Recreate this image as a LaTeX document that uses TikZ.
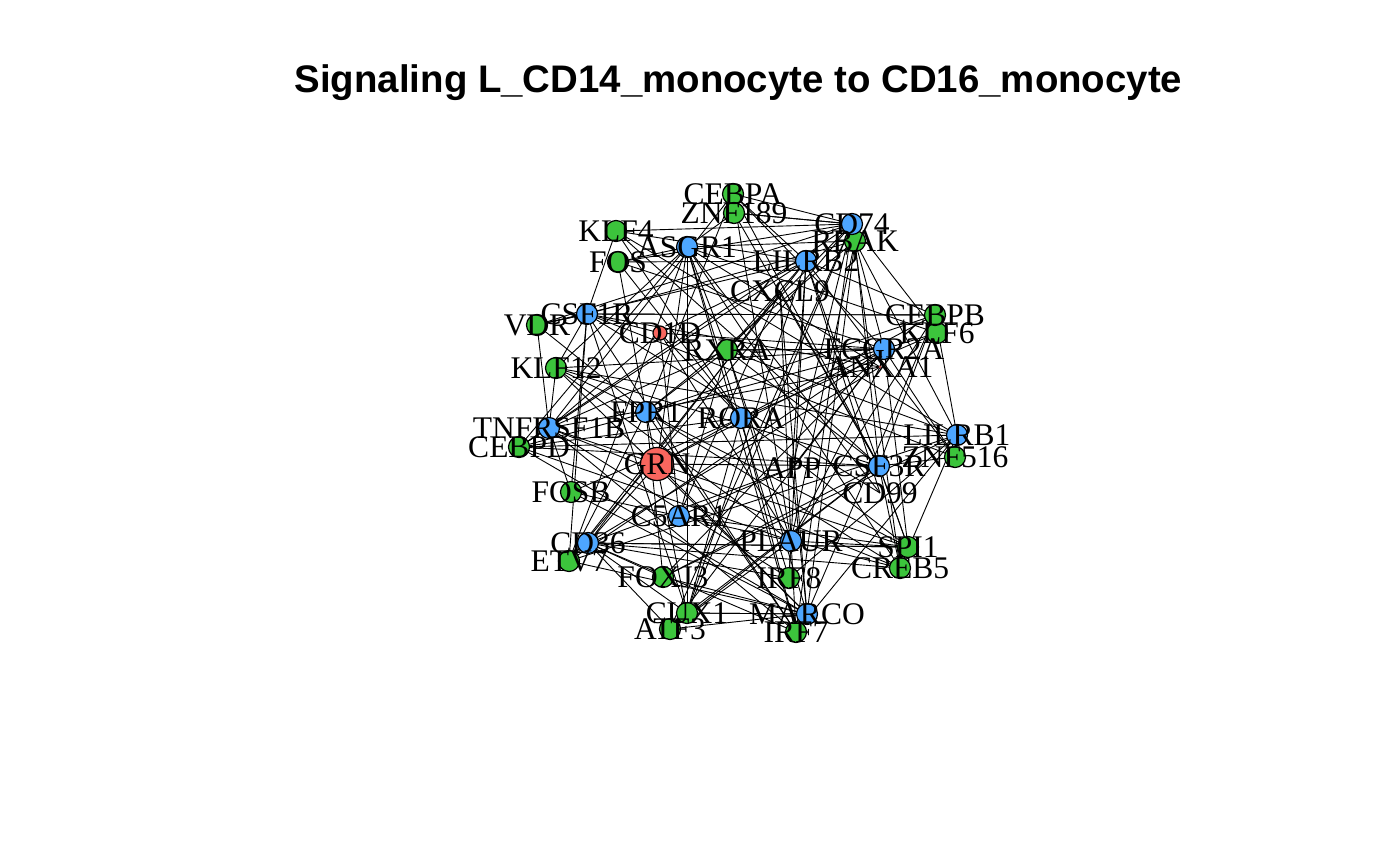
\documentclass[tikz,border=0pt]{standalone}
\usepackage{fontspec}
\setmainfont{Liberation Serif}
\newfontfamily\titlefont{Liberation Sans}
\definecolor{tfgreen}{HTML}{3CC43C}
\definecolor{recblue}{HTML}{4DA6FF}
\definecolor{ligred}{HTML}{F8665E}
\begin{document}
\begin{tikzpicture}[x=1pt,y=-1pt,
  vtx/.style={circle,draw=black,line width=1.2pt,inner sep=0pt,minimum size=21pt},
  tf/.style={vtx,fill=tfgreen},
  rec/.style={vtx,fill=recblue},
  lig/.style={vtx,fill=ligred},
  lbl/.style={font=\fontsize{31.5}{31.5}\selectfont,inner sep=0pt,text=black},
  edge/.style={line width=0.9pt,black}]
\fill[white] (0,0) rectangle (1400,865);
\useasboundingbox (0,0) rectangle (1400,865);
\node[font=\titlefont\bfseries\fontsize{38.4}{38.4}\selectfont,anchor=base] (title) at (738.5,92) {Signaling L\_CD14\_monocyte to CD16\_monocyte};
% vertex positions
\coordinate (CEBPA) at (733,194);
\coordinate (ZNF189) at (734,213);
\coordinate (KLF4) at (616,231);
\coordinate (ASGR1) at (687,247);
\coordinate (FOS) at (618,262);
\coordinate (CD74) at (852,224);
\coordinate (RBAK) at (855,241);
\coordinate (LILRB2) at (806,261);
\coordinate (CXCL9) at (780,291);
\coordinate (CSF1R) at (587,314);
\coordinate (VDR) at (537,325);
\coordinate (CD1D) at (660,333);
\coordinate (RXRA) at (727,350);
\coordinate (KLF12) at (556,368);
\coordinate (CEBPB) at (935,315);
\coordinate (KLF6) at (937,333);
\coordinate (FCGR2A) at (884,349);
\coordinate (ANXA1) at (880,367);
\coordinate (TNFRSF1B) at (549,428);
\coordinate (CEBPD) at (519,447);
\coordinate (FPR1) at (646,412);
\coordinate (RORA) at (741,418);
\coordinate (GRN) at (657,464);
\coordinate (FOSB) at (571,492);
\coordinate (LILRB1) at (957,435);
\coordinate (ZNF516) at (955,457);
\coordinate (CSF3R) at (879,466);
\coordinate (APP) at (792,468);
\coordinate (CD99) at (880,493);
\coordinate (C5AR1) at (679,516);
\coordinate (CD36) at (588,543);
\coordinate (ETV7) at (569,561);
\coordinate (PLAUR) at (791,541);
\coordinate (SPI1) at (908,547);
\coordinate (CREB5) at (900,568);
\coordinate (FOXJ3) at (663,577);
\coordinate (IRF8) at (789,578);
\coordinate (CUX1) at (687,613);
\coordinate (MARCO) at (807,614);
\coordinate (ATF3) at (670,629);
\coordinate (IRF7) at (796,632);
% edges: receptor -> TF
\foreach \r [count=\i] in {CSF1R,ASGR1,LILRB2,CD74,FCGR2A,LILRB1,CSF3R,PLAUR,MARCO,C5AR1,CD36,TNFRSF1B,FPR1,RORA}{
  \foreach \t [count=\j] in {CEBPA,ZNF189,KLF4,FOS,VDR,KLF12,CEBPD,FOSB,ETV7,FOXJ3,CUX1,ATF3,IRF8,IRF7,SPI1,CREB5,ZNF516,KLF6,CEBPB,RBAK,RXRA}{
    \pgfmathtruncatemacro\h{mod(\i*17+\j*29+\i*\j*7+\i*\i*3,100)}
    \ifnum\h<50\relax \draw[edge] (\r) -- (\t);\fi
  }
}
% edges: ligand -> receptor
\foreach \l [count=\i] in {GRN,CD1D,ANXA1,APP,CD99,CXCL9}{
  \foreach \r [count=\j] in {CSF1R,ASGR1,LILRB2,CD74,FCGR2A,LILRB1,CSF3R,PLAUR,MARCO,C5AR1,CD36,TNFRSF1B,FPR1,RORA}{
    \pgfmathtruncatemacro\h{mod(\i*23+\j*31+\i*\j*13,100)}
    \ifnum\h<45\relax \draw[edge] (\l) -- (\r);\fi
  }
}
% explicit edges seen in the figure
\draw[edge] (CD74) -- (CEBPA);
\draw[edge] (CD74) -- (ZNF189);
\draw[edge] (CD74) -- (KLF4);
\draw[edge] (LILRB2) -- (FOS);
\draw[edge] (CSF1R) -- (CEBPB);
\draw[edge] (FCGR2A) -- (RXRA);
\draw[edge] (MARCO) -- (CUX1);
\draw[edge] (C5AR1) -- (SPI1);
\draw[edge] (PLAUR) -- (CREB5);
\draw[edge] (CD36) -- (SPI1);
\draw[edge] (CSF1R) -- (VDR);
\draw[edge] (LILRB1) -- (CEBPB);
\draw[edge] (CSF3R) -- (ZNF516);
% vertices
\foreach \n in {CEBPA,ZNF189,KLF4,FOS,VDR,KLF12,CEBPD,FOSB,ETV7,FOXJ3,CUX1,ATF3,IRF8,IRF7,SPI1,CREB5,ZNF516,KLF6,CEBPB,RBAK,RXRA}
  \node[tf] (v\n) at (\n) {};
\foreach \n in {CSF1R,ASGR1,LILRB2,CD74,FCGR2A,LILRB1,CSF3R,PLAUR,MARCO,C5AR1,CD36,TNFRSF1B,FPR1,RORA}
  \node[rec] (v\n) at (\n) {};
\node[lig,minimum size=33pt] (vGRN) at (GRN) {};
\node[lig,minimum size=14pt] (vCD1D) at (CD1D) {};
\node[lig,minimum size=3pt,line width=0.3pt] (vANXA1) at (ANXA1) {};
% labels
\foreach \n in {CEBPA,ZNF189,KLF4,FOS,VDR,KLF12,CEBPD,FOSB,ETV7,FOXJ3,CUX1,ATF3,IRF8,IRF7,SPI1,CREB5,ZNF516,KLF6,CEBPB,RBAK,RXRA,CSF1R,ASGR1,LILRB2,CD74,FCGR2A,LILRB1,CSF3R,PLAUR,MARCO,C5AR1,CD36,TNFRSF1B,FPR1,RORA,GRN,CD1D,ANXA1,APP,CD99,CXCL9}
  \node[lbl] (l\n) at (\n) {\n};
\end{tikzpicture}
\end{document}
